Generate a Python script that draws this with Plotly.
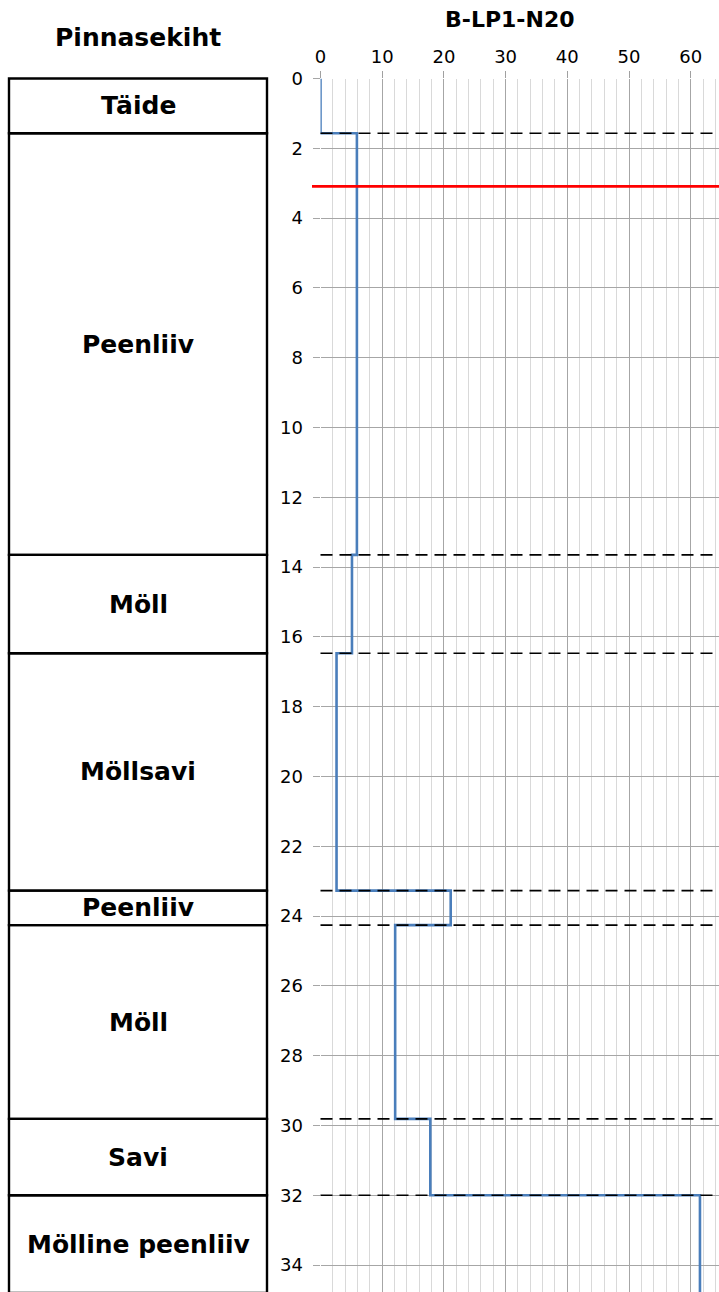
import plotly.graph_objects as go

# Borehole B-LP1-N20: soil layers and the measured value in each layer, by depth (m)
layer_names = ["Täide", "Peenliiv", "Möll", "Möllsavi", "Peenliiv", "Möll", "Savi", "Mölline peenliiv"]
layer_tops = [0.0, 1.57, 13.65, 16.47, 23.27, 24.26, 29.81, 32.0]
hole_bottom = 34.8
layer_values = [0.0, 5.9, 5.1, 2.6, 21.1, 12.1, 17.8, 61.5]
water_level = 3.09
x_ticks = [0, 10, 20, 30, 40, 50, 60]
y_ticks = list(range(0, 36, 2))

W, H = 719, 1292
plot_left_px, plot_top_px = 320.5, 78.5
px_per_x, px_per_y = 6.17, 34.9
x_max = (W - plot_left_px) / px_per_x
y_max = (H - plot_top_px) / px_per_y

layer_bottoms = layer_tops[1:] + [hole_bottom]

fig = go.Figure()

# step profile: value holds over each layer, then jumps at the boundary
fig.add_trace(go.Scatter(
    x=layer_values + [layer_values[-1]],
    y=layer_tops + [hole_bottom],
    mode="lines",
    line=dict(color="#4a7ebb", width=2.6, shape="vh"),
    showlegend=False,
    hoverinfo="skip",
    xaxis="x", yaxis="y",
))

# invisible trace so the layer column subplot exists
fig.add_trace(go.Scatter(x=[0.5], y=[0], mode="markers", marker=dict(opacity=0),
                         showlegend=False, hoverinfo="skip", xaxis="x2", yaxis="y2"))

shapes = []
annotations = []
label_font = dict(family="DejaVu Sans", size=25, color="black", weight="bold")

# layer column
for name, top, bot in zip(layer_names, layer_tops, layer_bottoms):
    shapes.append(dict(type="rect", xref="x2", yref="y2", x0=0, x1=1, y0=top, y1=bot,
                       line=dict(color="black", width=2.4), fillcolor="rgba(0,0,0,0)",
                       layer="above"))
    annotations.append(dict(xref="x2", yref="y2", x=0.5, y=(top + bot) / 2, text=name,
                            showarrow=False, xanchor="center", yanchor="middle",
                            font=label_font))

# layer boundaries across the profile
for top in layer_tops[1:]:
    shapes.append(dict(type="line", xref="x domain", yref="y", x0=0, x1=1, y0=top, y1=top,
                       line=dict(color="black", width=1.6, dash="12px,7px"), layer="above"))

# groundwater level
shapes.append(dict(type="line", xref="x domain", yref="y", x0=-8.5 / (W - plot_left_px), x1=1,
                   y0=water_level, y1=water_level,
                   line=dict(color="#ff0000", width=2.6), layer="above"))

annotations.append(dict(xref="paper", yref="paper", x=138 / W, y=1 - 37 / H,
                        text="Pinnasekiht", showarrow=False, xanchor="center", yanchor="middle",
                        font=label_font))
annotations.append(dict(xref="paper", yref="paper", x=510 / W, y=1 - 20 / H,
                        text="B-LP1-N20", showarrow=False, xanchor="center", yanchor="middle",
                        font=dict(family="DejaVu Sans", size=22, color="black", weight="bold")))

tick_font = dict(family="DejaVu Sans", size=18, color="black")

col_left_px, col_right_px = 9.0, 267.0
col_w = col_right_px - col_left_px
col_domain_right = 282.0
col_top_px = 72.0

fig.update_layout(
    width=W, height=H,
    margin=dict(l=0, r=0, t=0, b=0),
    paper_bgcolor="white", plot_bgcolor="white",
    shapes=shapes, annotations=annotations,
    xaxis=dict(
        domain=[plot_left_px / W, 1], range=[0, x_max], side="top",
        tickvals=x_ticks, ticks="outside", ticklen=7, tickcolor="#a0a0a0",
        ticklabelstandoff=0,
        showgrid=True, gridcolor="#a6a6a6", gridwidth=1,
        minor=dict(dtick=2, tick0=0, showgrid=True, gridcolor="#d9d9d9", gridwidth=1),
        zeroline=False, showline=False, tickfont=tick_font, automargin=False,
        fixedrange=True,
    ),
    yaxis=dict(
        domain=[0, 1 - plot_top_px / H], range=[y_max, 0],
        tickvals=y_ticks, ticks="outside", ticklen=7, tickcolor="#a6a6a6",
        ticklabelstandoff=6,
        showgrid=True, gridcolor="#a6a6a6", gridwidth=1,
        zeroline=False, showline=False, tickfont=tick_font, automargin=False,
        fixedrange=True,
    ),
    xaxis2=dict(
        domain=[0, col_domain_right / W],
        range=[-col_left_px / col_w, (col_domain_right - col_left_px) / col_w],
        visible=False, fixedrange=True,
    ),
    yaxis2=dict(
        domain=[0, 1 - col_top_px / H],
        range=[y_max, -(plot_top_px - col_top_px) / px_per_y],
        visible=False, fixedrange=True, anchor="x2",
    ),
)

fig.write_html("out.html")
